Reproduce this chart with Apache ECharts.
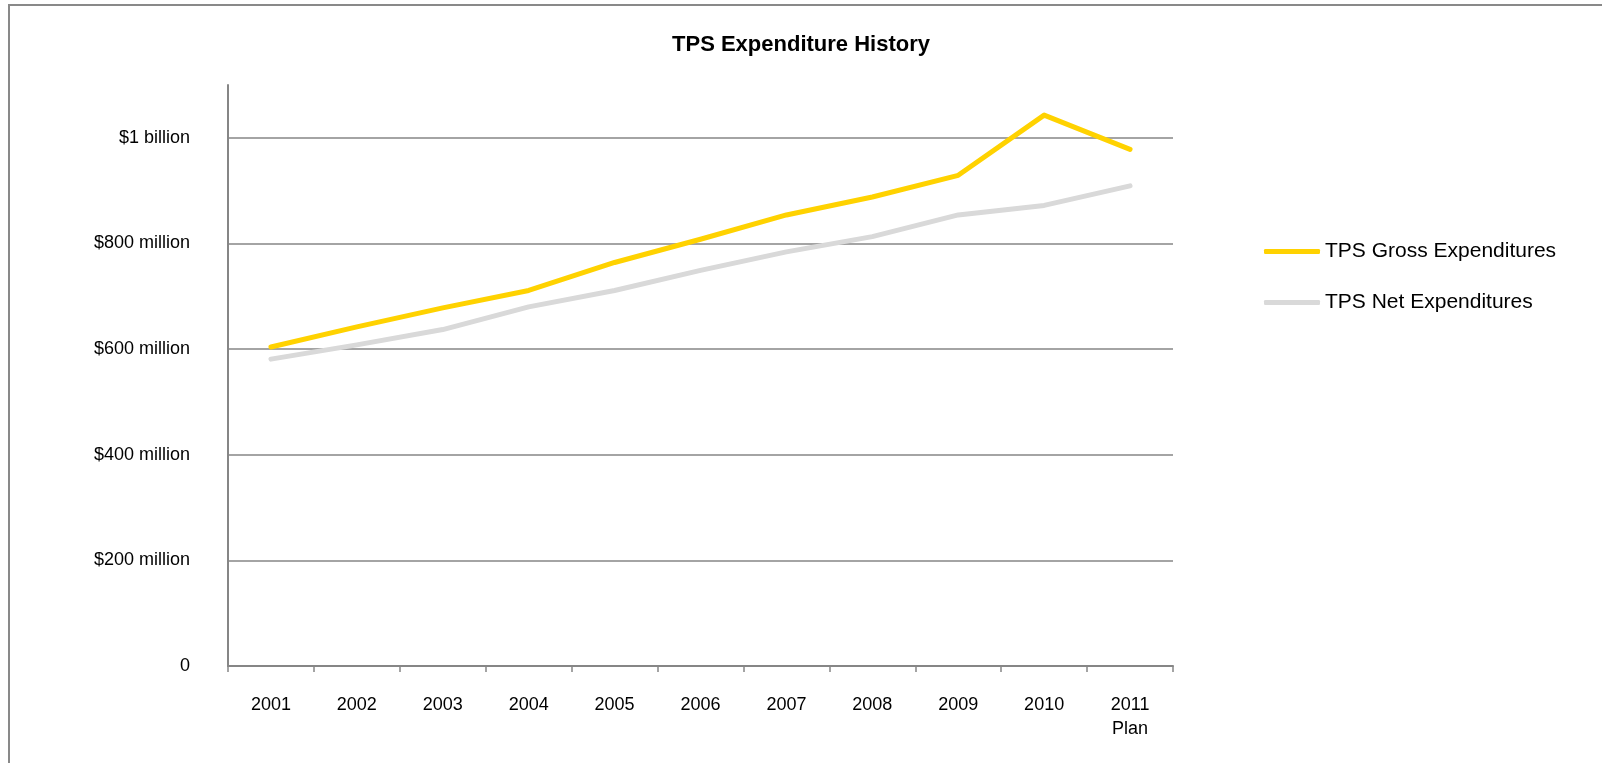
<!DOCTYPE html>
<html>
<head>
<meta charset="utf-8">
<title>TPS Expenditure History</title>
<script src="https://cdn.jsdelivr.net/npm/echarts@6/dist/echarts.min.js"></script>
<style>
    html, body { margin: 0; padding: 0; background: #fff; }
    #chart { width: 1602px; height: 763px; }
</style>
</head>
<body>
<div id="chart"></div>
<script>
/*************数据 (millions of $)***************/
var years = ['2001', '2002', '2003', '2004', '2005', '2006', '2007', '2008', '2009', '2010', '2011\nPlan'];
var grossExp = [604, 642, 678, 711, 764, 808, 854, 888, 929, 1043, 978];
var netExp = [581, 608, 637, 680, 711, 749, 784, 813, 854, 872, 909];
var yTickValues = [0, 200, 400, 600, 800, 1000];
var yTickLabels = ['0', '$200 million', '$400 million', '$600 million', '$800 million', '$1 billion'];

var font = 'Liberation Sans, Arial, sans-serif';
var axisGray = '#868686';

var myChart = echarts.init(document.getElementById('chart'));

var option = {
    backgroundColor: '#fff',
    animation: false,
    title: {
        text: 'TPS Expenditure History',
        left: 'center',
        top: 29,
        textStyle: { fontFamily: font, fontSize: 22, fontWeight: 'bold', color: '#000' }
    },
    legend: {
        orient: 'vertical',
        left: 1259,
        top: 236,
        icon: 'roundRect',
        itemWidth: 56,
        itemHeight: 5,
        itemGap: 30,
        textStyle: { fontFamily: font, fontSize: 21, color: '#000' },
        data: ['TPS Gross Expenditures', 'TPS Net Expenditures']
    },
    grid: { left: 228, right: 429, top: 85, bottom: 97 },
    xAxis: {
        type: 'category',
        data: years,
        boundaryGap: true,
        axisLine: { lineStyle: { color: axisGray, width: 2 } },
        axisTick: { show: true, length: 6, lineStyle: { color: axisGray, width: 1.5 } },
        axisLabel: { fontFamily: font, fontSize: 18, color: '#000', margin: 27, lineHeight: 24, interval: 0 },
        splitLine: { show: false }
    },
    yAxis: {
        type: 'value',
        min: 0,
        max: 1100,
        interval: 200,
        axisLine: { show: true, lineStyle: { color: axisGray, width: 2 } },
        axisTick: { show: false },
        axisLabel: {
            fontFamily: font, fontSize: 18, color: '#000', margin: 38,
            showMaxLabel: false,
            formatter: function(v) {
                var i = yTickValues.indexOf(v);
                return i >= 0 ? yTickLabels[i] : '';
            }
        },
        splitLine: { show: true, showMaxLine: false, showMinLine: false, lineStyle: { color: axisGray, width: 1.5 } }
    },
    series: [{
        name: 'TPS Gross Expenditures',
        type: 'line',
        data: grossExp,
        symbol: 'none',
        color: '#FFD200',
        lineStyle: { color: '#FFD200', width: 5, cap: 'round', join: 'round' }
    }, {
        name: 'TPS Net Expenditures',
        type: 'line',
        data: netExp,
        symbol: 'none',
        color: '#D9D9D9',
        lineStyle: { color: '#D9D9D9', width: 5, cap: 'round', join: 'round' }
    }],
    graphic: [{
        type: 'polyline',
        silent: true,
        shape: { points: [[9, 763], [9, 5], [1602, 5]] },
        style: { stroke: '#898989', lineWidth: 2, fill: null }
    }]
};

myChart.setOption(option);
</script>
</body>
</html>
